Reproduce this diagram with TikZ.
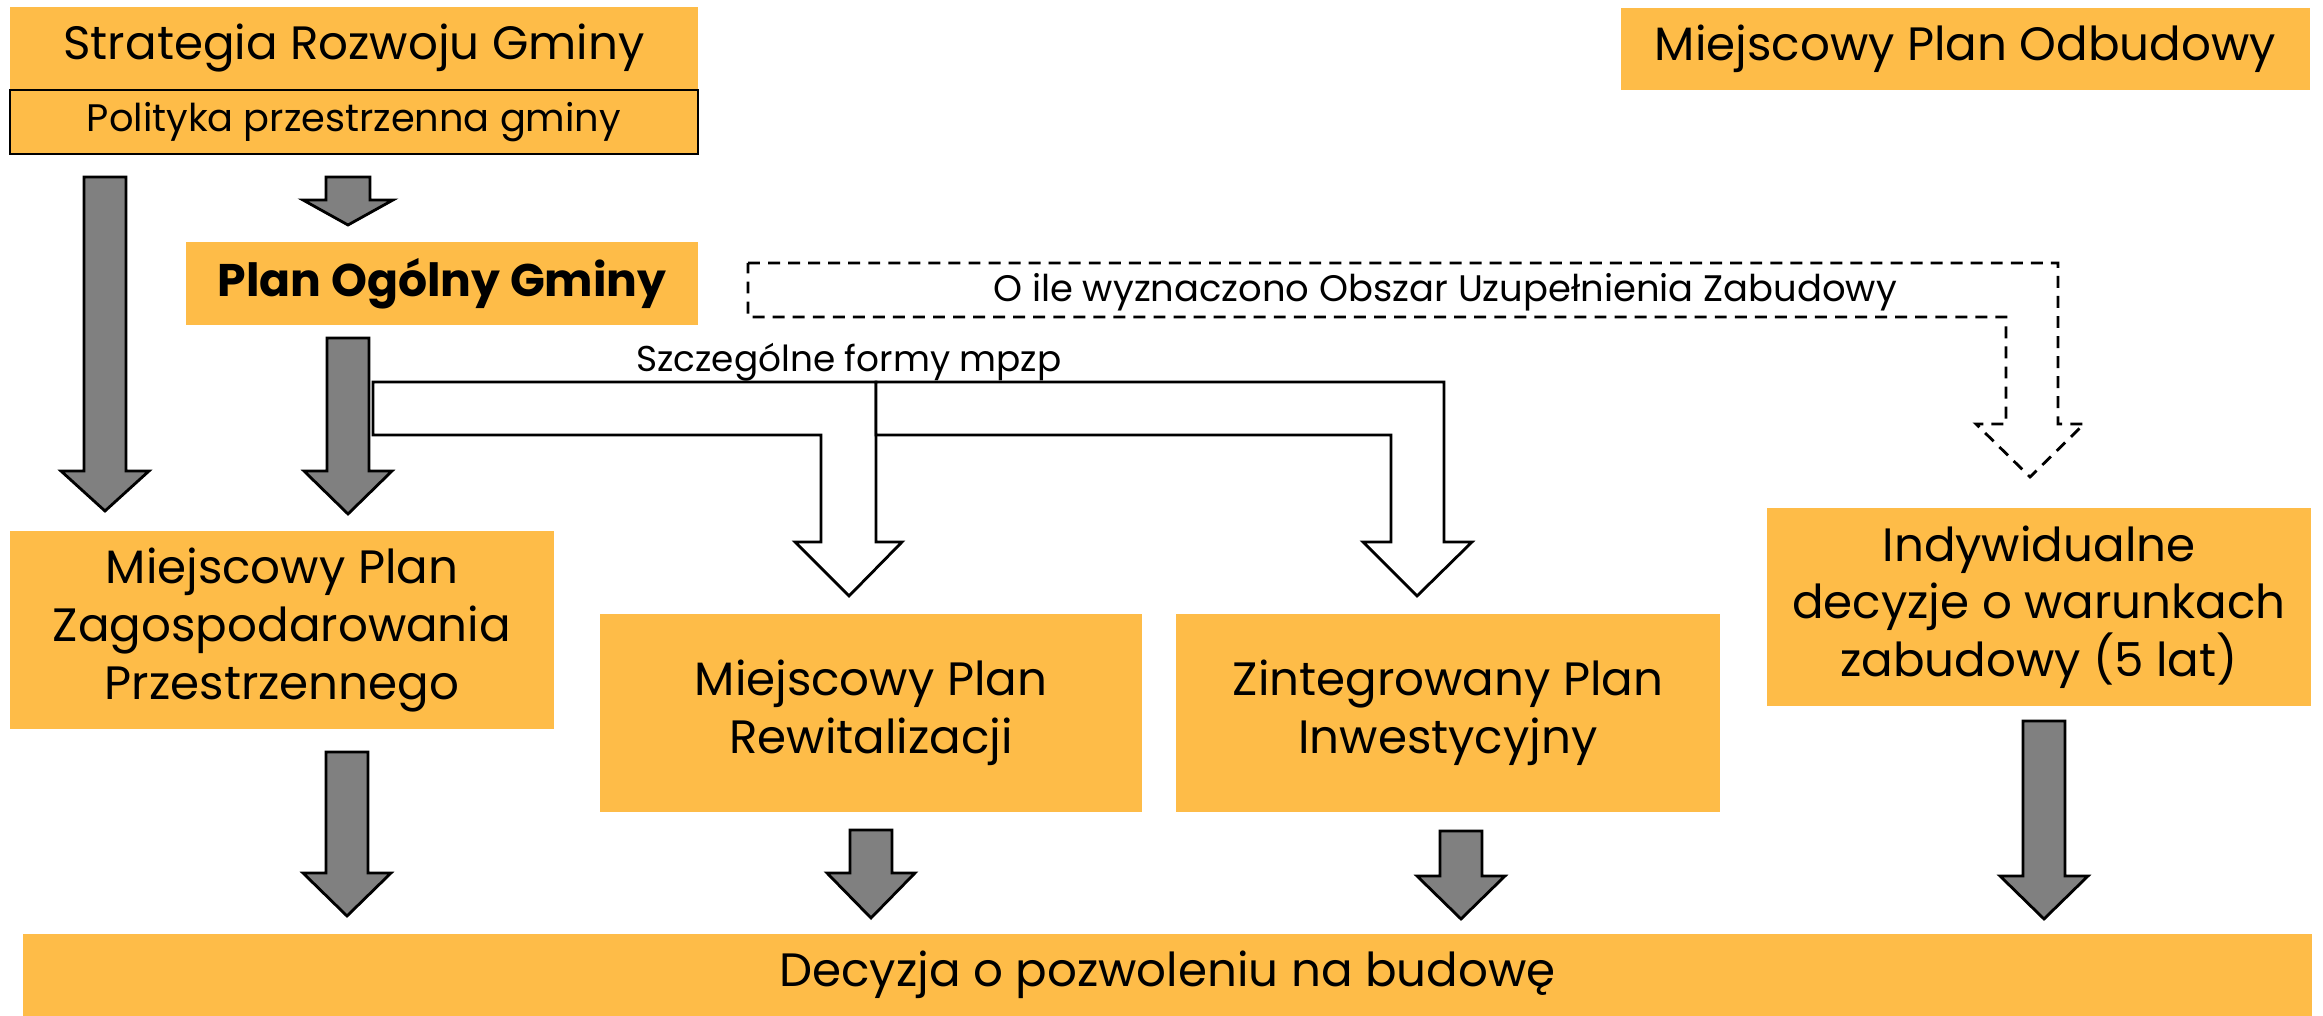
\documentclass[tikz,border=0pt]{standalone}
\usepackage{fontspec}
\setmainfont{Poppins}

\definecolor{planorange}{RGB}{254,188,72}
\definecolor{arrowgray}{RGB}{128,128,128}

\tikzset{
    planbox/.style={fill=planorange, inner sep=0pt, align=center, font=\fontsize{13.3}{16.4}\selectfont},
    grayblock/.style={fill=arrowgray, draw=black, line width=0.8pt},
    whiteblock/.style={fill=white, draw=black, line width=0.8pt},
    dashblock/.style={draw=black, line width=0.8pt, dash pattern=on 3.4pt off 2.3pt},
    smalltext/.style={inner sep=0pt, font=\fontsize{10.2}{12}\selectfont}
}

% block arrow: style, x, top, head, tip, half shaft, half head
\newcommand{\blockarrow}[7]{%
    \draw[#1] (#2-#6,#3) -- (#2+#6,#3) -- (#2+#6,#4) -- (#2+#7,#4) -- (#2,#5)
        -- (#2-#7,#4) -- (#2-#6,#4) -- cycle;}

\begin{document}
\begin{tikzpicture}[x=0.01cm, y=-0.01cm]
    \useasboundingbox (0,0) rectangle (2323,1016);

    % boxes
    \node[planbox, minimum width=6.88cm, minimum height=0.83cm] (strat) at (354,48.5) {Strategia Rozwoju Gminy};
    \node[planbox, draw=black, line width=0.6pt, minimum width=6.88cm, minimum height=0.64cm,
        font=\fontsize{10.9}{12}\selectfont] (polit) at (354,122) {Polityka przestrzenna gminy};
    \node[planbox, minimum width=6.89cm, minimum height=0.82cm] (odbud) at (1965.5,49) {Miejscowy Plan Odbudowy};
    \node[planbox, minimum width=5.12cm, minimum height=0.83cm,
        font=\fontsize{13}{16.4}\selectfont\bfseries] (plan) at (442,283.5) {Plan Ogólny Gminy};
    \node[planbox, minimum width=5.44cm, minimum height=1.98cm] (mpzp) at (282,630)
        {Miejscowy Plan\\Zagospodarowania\\Przestrzennego};
    \node[planbox, minimum width=5.42cm, minimum height=1.98cm] (rewit) at (871,713)
        {Miejscowy Plan\\Rewitalizacji};
    \node[planbox, minimum width=5.44cm, minimum height=1.98cm] (zint) at (1448,713)
        {Zintegrowany Plan\\Inwestycyjny};
    \node[planbox, minimum width=5.44cm, minimum height=1.98cm] (indyw) at (2039,607)
        {Indywidualne\\decyzje o warunkach\\zabudowy (5 lat)};
    \node[planbox, minimum width=22.87cm, minimum height=0.82cm] (decyz) at (1167.5,975)
        {Decyzja o pozwoleniu na budowę};

    % gray arrows
    \blockarrow{grayblock}{105}{177}{471}{511}{21}{44}
    \blockarrow{grayblock}{348}{177}{200}{225}{22}{45}
    \blockarrow{grayblock}{348}{338}{471}{514}{21}{44}
    \blockarrow{grayblock}{347}{752}{873}{916}{21}{44}
    \blockarrow{grayblock}{871}{830}{873}{918}{21}{44}
    \blockarrow{grayblock}{1461}{831}{876}{919}{21}{44}
    \blockarrow{grayblock}{2044}{721}{876}{919}{21}{44}

    % special forms
    \draw[whiteblock] (373,382) -- (876,382) -- (876,542) -- (902,542) -- (849,596) -- (795,542)
        -- (821,542) -- (821,435) -- (373,435) -- cycle;
    \draw[whiteblock] (876,382) -- (1444,382) -- (1444,542) -- (1472,542) -- (1417,596) -- (1363,542)
        -- (1391,542) -- (1391,435) -- (876,435) -- cycle;
    \node[smalltext] (szcz) at (849,362) {Szczególne formy mpzp};

    % infill area
    \draw[dashblock] (748,263) -- (2058,263) -- (2058,424) -- (2084,424) -- (2030,477) -- (1976,424)
        -- (2006,424) -- (2006,317) -- (748,317) -- cycle;
    \node[smalltext, font=\fontsize{10.5}{12}\selectfont] (oile) at (1445,292) {O ile wyznaczono Obszar Uzupełnienia Zabudowy};
\end{tikzpicture}
\end{document}
